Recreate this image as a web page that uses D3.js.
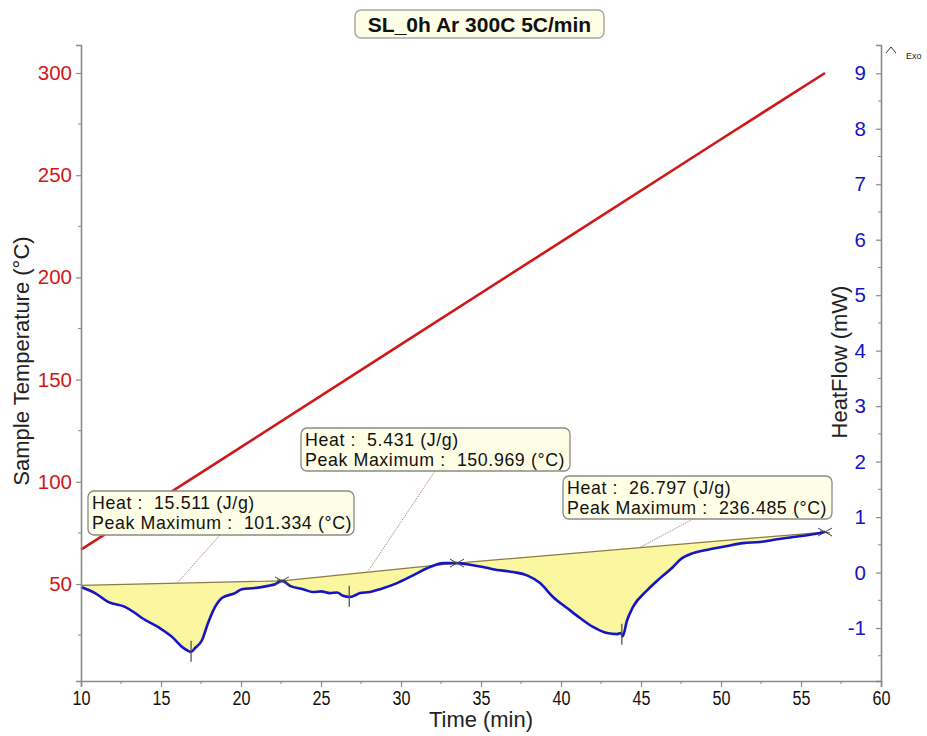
<!DOCTYPE html>
<html>
<head>
<meta charset="utf-8">
<script src="https://cdn.jsdelivr.net/npm/d3@7"></script>
<style>
  html, body { margin: 0; padding: 0; background: #fff; }
  svg { display: block; }
  text { font-family: "Liberation Sans", Arial, sans-serif; }
</style>
</head>
<body>
<svg id="chart" width="927" height="736"></svg>
<script>
// ---- Data ----
const title = "SL_0h Ar 300C 5C/min";

// Sample temperature (°C) against time (min)
const tempTime = [10, 20, 30, 40, 50, 56.5];
const tempValue = [66.8, 117.0, 167.2, 217.4, 267.6, 300.0];

// Heat flow (mW) against time (min)
const hfTime = [10.0, 10.88, 11.69, 12.75, 13.38, 13.81, 14.81, 15.69, 16.31, 16.69, 16.88, 17.13, 17.56, 17.94, 18.38, 18.81, 19.63, 20.06, 20.88, 21.69, 22.13, 22.56,
  23.06, 23.88, 24.5, 25.0, 25.56, 26.0, 26.38, 26.81, 27.13, 27.44, 28.06, 28.69, 29.75, 30.75, 31.81, 32.63, 33.5,
  34.31, 35.13, 35.75, 37.0, 37.88, 38.69, 39.5, 40.38, 41.19, 42.0, 42.88, 43.5, 43.75, 43.85, 44.13, 44.5, 45.38, 46.19, 47.0, 47.44, 48.25, 49.31, 50.38, 51.38, 52.44, 53.5, 54.5, 55.56, 56.5];
const hfValue = [-0.26, -0.37, -0.53, -0.62, -0.73, -0.82, -0.98, -1.16, -1.34, -1.41, -1.43, -1.36, -1.22, -0.91, -0.62, -0.46, -0.37, -0.30, -0.28, -0.24, -0.21, -0.15,
  -0.24, -0.30, -0.35, -0.34, -0.37, -0.36, -0.42, -0.44, -0.41, -0.37, -0.35, -0.30, -0.19, -0.05, 0.10, 0.17, 0.17,
  0.14, 0.10, 0.06, 0.01, -0.05, -0.19, -0.44, -0.64, -0.82, -0.98, -1.09, -1.11, -1.09, -1.15, -0.86, -0.62, -0.32, -0.10, 0.10, 0.23, 0.35, 0.42, 0.48, 0.53, 0.55, 0.60, 0.64, 0.68, 0.73];

// Integration limits (min) and baseline heat flow at each limit (mW)
const limitTime = [10.0, 22.56, 33.5, 56.5];
const limitBase = [-0.23, -0.15, 0.17, 0.73];

// Peak results
const peakHeat = [15.511, 5.431, 26.797];        // J/g
const peakTemp = [101.334, 150.969, 236.485];    // °C
const leaderTime = [16.0, 27.9, 44.9];           // where each label's leader meets the baseline

// Axis ticks
const timeTicks = [10, 15, 20, 25, 30, 35, 40, 45, 50, 55, 60];
const tempTicks = [50, 100, 150, 200, 250, 300];
const hfTicks = [-1, 0, 1, 2, 3, 4, 5, 6, 7, 8, 9];

// ---- Layout ----
const plot = { left: 81, right: 881, top: 45, bottom: 681 };
const svg = d3.select("#chart");

const x = d3.scaleLinear().domain([10, 60]).range([plot.left, plot.right]);
const yT = d3.scaleLinear().domain([2.54, 313.7]).range([plot.bottom, plot.top]);
const yH = d3.scaleLinear().domain([-1.955, 9.51]).range([plot.bottom, plot.top]);

const red = "#d01818", blue = "#1414c8", axisGrey = "#8a8a8a";
const plain = d => String(d);   // hyphen-minus, as printed by the instrument software

// ---- Title ----
const tg = svg.append("g");
tg.append("rect").attr("x", 355).attr("y", 10).attr("width", 249).attr("height", 28)
  .attr("rx", 6).attr("fill", "#fefee6").attr("stroke", "#a8a8a8").attr("stroke-width", 1.5);
tg.append("text").attr("x", 479.5).attr("y", 31.5).attr("text-anchor", "middle")
  .attr("font-size", 21).attr("font-weight", "bold").attr("fill", "#111").text(title);

// ---- Fill between baseline and heat-flow curve ----
const hfData = hfTime.map((t, i) => ({ t, v: hfValue[i] }));
const baseAt = d3.scaleLinear().domain(limitTime).range(limitBase);
const fillG = svg.append("g");
for (let s = 0; s < limitTime.length - 1; s++) {
  const a = limitTime[s], b = limitTime[s + 1];
  const seg = hfData.filter(d => d.t >= a - 1e-9 && d.t <= b + 1e-9);
  fillG.append("path")
    .datum(seg)
    .attr("fill", "#fbf7a0")
    .attr("stroke", "none")
    .attr("d", d3.area().x(d => x(d.t)).y0(d => yH(baseAt(d.t))).y1(d => yH(d.v)));
}
// Baselines
svg.append("path")
  .datum(limitTime.map((t, i) => ({ t, v: limitBase[i] })))
  .attr("fill", "none").attr("stroke", "#8c7a40").attr("stroke-width", 1.2)
  .attr("d", d3.line().x(d => x(d.t)).y(d => yH(d.v)));

// ---- Temperature line ----
svg.append("path")
  .datum(tempTime.map((t, i) => ({ t, v: tempValue[i] })))
  .attr("fill", "none").attr("stroke", red).attr("stroke-width", 2.6)
  .attr("d", d3.line().x(d => x(d.t)).y(d => yT(d.v)));

// ---- Heat-flow curve ----
svg.append("path")
  .datum(hfData)
  .attr("fill", "none").attr("stroke", blue).attr("stroke-width", 2.6)
  .attr("stroke-linejoin", "round")
  .attr("d", d3.line().x(d => x(d.t)).y(d => yH(d.v)).curve(d3.curveMonotoneX));

// ---- Peak markers (time found from the temperature record) ----
const timeAtTemp = d3.scaleLinear().domain(tempValue).range(tempTime);
const hfAt = d3.scaleLinear().domain(hfTime).range(hfValue);
peakTemp.forEach(T => {
  const t = timeAtTemp(T);
  const py = yH(hfAt(t));
  svg.append("line").attr("x1", x(t)).attr("x2", x(t)).attr("y1", py - 11).attr("y2", py + 10)
    .attr("stroke", "#555").attr("stroke-width", 1.3);
});

// ---- Integration limit markers ----
limitTime.slice(1).forEach((t, i) => {
  const cx = x(t), cy = yH(limitBase[i + 1]);
  const g = svg.append("g").attr("stroke", "#444").attr("stroke-width", 1);
  g.append("line").attr("x1", cx - 7).attr("y1", cy - 4).attr("x2", cx + 7).attr("y2", cy + 4);
  g.append("line").attr("x1", cx - 7).attr("y1", cy + 4).attr("x2", cx + 7).attr("y2", cy - 4);
  g.append("line").attr("x1", cx - 5).attr("y1", cy - 1).attr("x2", cx + 5).attr("y2", cy + 1);
});

// ---- Axes ----
function styleAxis(g, color, size) {
  g.select(".domain").attr("stroke", axisGrey).attr("stroke-width", 1.6);
  g.selectAll(".tick line").attr("stroke", axisGrey).attr("stroke-width", 1.2);
  g.selectAll(".tick text").attr("fill", color).attr("font-size", size);
}

// bottom: condensed figures
const gx = svg.append("g").attr("transform", `translate(0,${plot.bottom})`)
  .call(d3.axisBottom(x).tickValues(timeTicks).tickFormat(plain).tickSizeOuter(0).tickSize(6).tickPadding(4));
styleAxis(gx, "#111", 20);
gx.selectAll(".tick text")
  .attr("textLength", function () { return this.textContent.length * 9; })
  .attr("lengthAdjust", "spacingAndGlyphs");
gx.append("g").selectAll("line").data(timeTicks.slice(0, -1).map(v => v + 2.5)).join("line")
  .attr("x1", d => x(d)).attr("x2", d => x(d)).attr("y1", 0).attr("y2", 3)
  .attr("stroke", axisGrey).attr("stroke-width", 1);

// left (temperature)
const gyT = svg.append("g").attr("transform", `translate(${plot.left},0)`)
  .call(d3.axisLeft(yT).tickValues(tempTicks).tickFormat(plain).tickSizeOuter(0).tickSize(5).tickPadding(4));
styleAxis(gyT, red, 20.5);
gyT.append("g").selectAll("line").data([25, 75, 125, 175, 225, 275]).join("line")
  .attr("x1", 0).attr("x2", -3).attr("y1", d => yT(d)).attr("y2", d => yT(d))
  .attr("stroke", axisGrey).attr("stroke-width", 1);

// right (heat flow), labels sit inside the frame
const gyH = svg.append("g").attr("transform", `translate(${plot.right},0)`)
  .call(d3.axisLeft(yH).tickValues(hfTicks).tickFormat(plain).tickSizeOuter(0).tickSize(5).tickPadding(10));
styleAxis(gyH, blue, 20.5);
gyH.append("g").selectAll("line").data(d3.range(-1.5, 9.6, 1)).join("line")
  .attr("x1", 0).attr("x2", -3).attr("y1", d => yH(d)).attr("y2", d => yH(d))
  .attr("stroke", axisGrey).attr("stroke-width", 1);

// ---- Axis titles ----
svg.append("text").attr("transform", `translate(29,361) rotate(-90)`).attr("text-anchor", "middle")
  .attr("font-size", 22).attr("fill", "#222").text("Sample Temperature (°C)");
svg.append("text").attr("transform", `translate(847,362) rotate(-90)`).attr("text-anchor", "middle")
  .attr("font-size", 22).attr("fill", "#222").text("HeatFlow (mW)");
svg.append("text").attr("x", 429).attr("y", 727)
  .attr("font-size", 21.5).attr("fill", "#222")
  .attr("textLength", 104).attr("lengthAdjust", "spacingAndGlyphs").text("Time (min)");

// Exo marker
svg.append("path").attr("d", "M886,53 L891,47 L896,53").attr("fill", "none").attr("stroke", "#333").attr("stroke-width", 1);
svg.append("text").attr("x", 906).attr("y", 59).attr("font-size", 9).attr("fill", "#222").text("Exo");

// ---- Peak labels ----
const boxes = [
  { x: 88, y: 491, w: 266, h: 44, lx: 220 },
  { x: 301, y: 428, w: 269, h: 43, lx: 435 },
  { x: 563, y: 476, w: 269, h: 43, lx: 693 }
];
boxes.forEach((b, i) => {
  const t = leaderTime[i];
  svg.append("line").attr("x1", b.lx).attr("y1", b.y + b.h)
    .attr("x2", x(t)).attr("y2", yH(baseAt(t)))
    .attr("stroke", "#b08a8a").attr("stroke-width", 1).attr("stroke-dasharray", "1.5,1");
  svg.append("rect").attr("x", b.x).attr("y", b.y).attr("width", b.w).attr("height", b.h)
    .attr("rx", 6).attr("fill", "#fefee6").attr("stroke", "#8a8a8a").attr("stroke-width", 1.3);
  svg.append("text").attr("x", b.x + 4).attr("y", b.y + 18).attr("font-size", 17.8).attr("fill", "#111")
    .attr("letter-spacing", 0.6).attr("xml:space", "preserve")
    .text(`Heat :  ${peakHeat[i].toFixed(3)} (J/g)`);
  svg.append("text").attr("x", b.x + 4).attr("y", b.y + 38).attr("font-size", 17.8).attr("fill", "#111")
    .attr("letter-spacing", 0.6).attr("xml:space", "preserve")
    .text(`Peak Maximum :  ${peakTemp[i].toFixed(3)} (°C)`);
});
</script>
</body>
</html>
